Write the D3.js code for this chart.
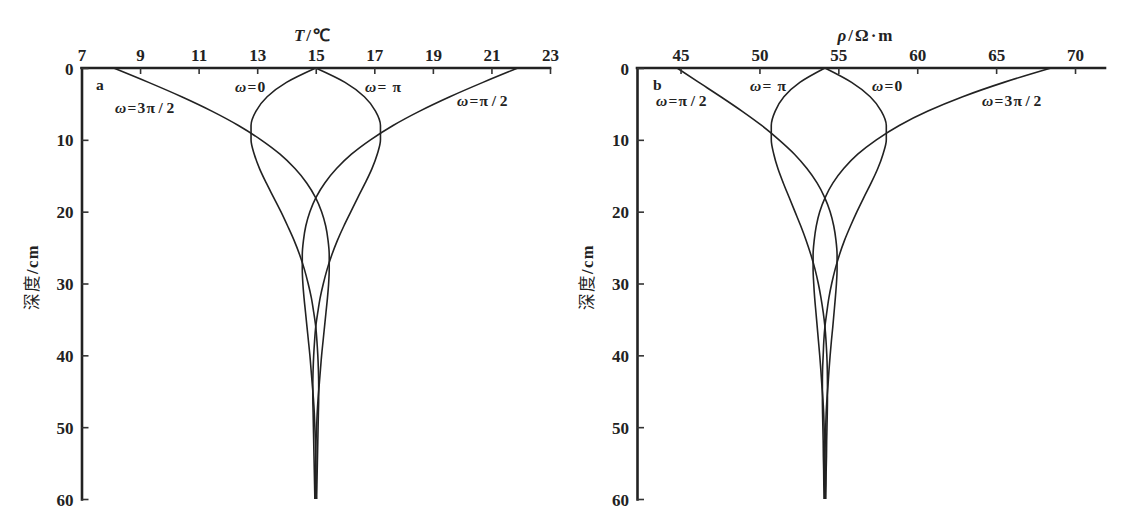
<!DOCTYPE html>
<html>
<head>
<meta charset="utf-8">
<script src="https://cdn.jsdelivr.net/npm/d3@7/dist/d3.min.js"></script>
<style>
  body { margin: 0; background: #fff; }
  svg { display: block; }
  .tick text { font-family: "Liberation Serif", serif; font-weight: bold; font-size: 17px; fill: #222; }
  .tick line { stroke: #333; stroke-width: 1.6; }
  .domain { stroke: #222; stroke-width: 2.6; stroke-linecap: square; }
  .lbl { font-family: "Liberation Serif", serif; font-weight: bold; font-size: 15.5px; fill: #222; letter-spacing: 1.2px; }
</style>
</head>
<body>
<svg width="1121" height="527"></svg>
<script>
// depth of each sample, cm
const depth = [0, 2, 4, 6, 8, 10, 12, 14, 16, 18, 20, 22, 24, 26, 28, 30,
  32, 34, 36, 38, 40, 42, 44, 46, 48, 50, 52, 54, 56, 58, 60];

// panel a: temperature (°C) per phase
const tempOmega0 = [15.00, 14.00, 13.34, 12.96, 12.79, 12.79, 12.90, 13.08, 13.31, 13.56, 13.81,
  14.04, 14.26, 14.45, 14.61, 14.74, 14.85, 14.93, 15.00, 15.04, 15.07, 15.09, 15.10, 15.10,
  15.09, 15.08, 15.07, 15.06, 15.05, 15.04, 15.03];
const tempOmegaHalfPi = [21.90, 20.71, 19.58, 18.55, 17.64, 16.87, 16.22, 15.71, 15.31, 15.01, 14.80,
  14.66, 14.58, 14.54, 14.54, 14.56, 14.60, 14.65, 14.70, 14.75, 14.80, 14.84, 14.88, 14.92,
  14.95, 14.97, 14.99, 15.00, 15.01, 15.01, 15.02];
const tempOmegaPi = [15.00, 16.00, 16.66, 17.04, 17.21, 17.21, 17.10, 16.92, 16.69, 16.44, 16.20,
  15.96, 15.74, 15.55, 15.39, 15.26, 15.15, 15.07, 15.00, 14.96, 14.93, 14.91, 14.90, 14.90,
  14.91, 14.92, 14.93, 14.94, 14.95, 14.96, 14.97];
const tempOmega3HalfPi = [8.10, 9.29, 10.42, 11.45, 12.36, 13.13, 13.78, 14.29, 14.69, 14.99, 15.20,
  15.34, 15.42, 15.46, 15.46, 15.44, 15.40, 15.35, 15.30, 15.25, 15.20, 15.16, 15.12, 15.08,
  15.05, 15.03, 15.01, 15.00, 14.99, 14.99, 14.98];

// panel b: resistivity (Ω·m) per phase
const rhoOmega0 = [54.15, 55.84, 57.02, 57.72, 58.04, 58.04, 57.83, 57.50, 57.08, 56.62, 56.18,
  55.77, 55.39, 55.07, 54.80, 54.58, 54.40, 54.27, 54.15, 54.08, 54.04, 54.00, 53.99, 53.99,
  54.00, 54.02, 54.04, 54.05, 54.07, 54.08, 54.10];
const rhoOmegaHalfPi = [44.78, 46.16, 47.55, 48.89, 50.14, 51.24, 52.22, 53.01, 53.65, 54.13, 54.48,
  54.71, 54.85, 54.92, 54.92, 54.88, 54.81, 54.73, 54.65, 54.56, 54.48, 54.41, 54.35, 54.28,
  54.23, 54.20, 54.17, 54.15, 54.13, 54.13, 54.12];
const rhoOmegaPi = [54.15, 52.56, 51.55, 51.00, 50.75, 50.75, 50.91, 51.17, 51.51, 51.88, 52.25,
  52.62, 52.96, 53.26, 53.52, 53.73, 53.90, 54.04, 54.15, 54.22, 54.27, 54.30, 54.31, 54.31,
  54.30, 54.28, 54.26, 54.25, 54.23, 54.22, 54.20];
const rhoOmega3HalfPi = [68.48, 65.49, 62.88, 60.68, 58.86, 57.41, 56.23, 55.34, 54.66, 54.17, 53.82,
  53.60, 53.47, 53.40, 53.40, 53.44, 53.50, 53.58, 53.66, 53.74, 53.82, 53.89, 53.95, 54.02,
  54.07, 54.10, 54.13, 54.15, 54.17, 54.17, 54.18];

// tick labels
const tempTicks = [7, 9, 11, 13, 15, 17, 19, 21, 23];
const rhoTicks = [45, 50, 55, 60, 65, 70];
const depthTicks = [0, 10, 20, 30, 40, 50, 60];

const svg = d3.select("svg");

// shared depth scale (top = 0 cm)
const y = d3.scaleLinear().domain([0, 60]).range([68, 499]);

function drawPanel(opts) {
  const x = d3.scaleLinear().domain(opts.domain).range(opts.range);
  const g = svg.append("g");

  // curves first, axes on top
  const line = d3.line()
    .x((d) => x(d.v))
    .y((d) => y(d.z))
    .curve(d3.curveMonotoneY);

  opts.series.forEach((s) => {
    const pts = depth.map((z, i) => ({ z: z, v: s[i] }));
    g.append("path")
      .attr("d", line(pts))
      .attr("fill", "none")
      .attr("stroke", "#222")
      .attr("stroke-width", 1.6);
  });

  // top axis, ticks pointing into the plot
  g.append("g")
    .attr("transform", `translate(0,${y(0)})`)
    .call(d3.axisTop(x).tickValues(opts.ticks).tickSizeInner(-6).tickSizeOuter(0).tickPadding(7))
    .call((a) => a.select(".domain").attr("d", `M${opts.range[0]},0H${opts.range[1]}`));

  // depth axis
  g.append("g")
    .attr("transform", `translate(${opts.range[0]},0)`)
    .call(d3.axisLeft(y).tickValues(depthTicks).tickSizeInner(-7).tickSizeOuter(0).tickPadding(8))
    .call((a) => a.selectAll(".tick text").attr("dy", "0.36em"));

  // axis titles
  g.append("text")
    .attr("class", "lbl")
    .attr("x", opts.titleX)
    .attr("y", opts.titleY)
    .attr("text-anchor", "middle")
    .style("font-size", "17px")
    .style("letter-spacing", "2px")
    .html(opts.title);

  g.append("text")
    .attr("class", "lbl")
    .attr("transform", `translate(${opts.range[0] - 44},277) rotate(-90)`)
    .attr("text-anchor", "middle")
    .style("font-size", "16.5px")
    .style("letter-spacing", "1.5px")
    .html('<tspan style="font-family:\'Noto Sans CJK SC\';font-weight:normal">深度</tspan>/cm');

  // curve labels
  opts.labels.forEach((l) => {
    const t = g.append("text").attr("class", "lbl").attr("x", l.x).attr("y", l.y);
    if (l.plain) {
      t.text(l.text);
    } else {
      t.append("tspan").style("font-style", "italic").text("ω");
      t.append("tspan").text(l.text);
    }
  });
}

drawPanel({
  domain: [7, 23],
  range: [81.5, 550],
  ticks: tempTicks,
  series: [tempOmega0, tempOmegaHalfPi, tempOmegaPi, tempOmega3HalfPi],
  title: '<tspan font-style="italic">T</tspan>/℃',
  titleX: 313,
  titleY: 41,
  labels: [
    { x: 96, y: 90, text: "a", plain: true },
    { x: 235, y: 92, text: "=0" },
    { x: 365, y: 92, text: "= π" },
    { x: 457, y: 106, text: "=π\u200a/\u200a2" },
    { x: 115, y: 113, text: "=3π\u200a/\u200a2" }
  ]
});

drawPanel({
  domain: [42.24, 71.9],
  range: [637, 1105],
  ticks: rhoTicks,
  series: [rhoOmega0, rhoOmegaHalfPi, rhoOmegaPi, rhoOmega3HalfPi],
  title: '<tspan font-style="italic">ρ</tspan>/Ω·m',
  titleX: 866,
  titleY: 41,
  labels: [
    { x: 653, y: 90, text: "b", plain: true },
    { x: 656, y: 106, text: "=π\u200a/\u200a2" },
    { x: 750, y: 91, text: "= π" },
    { x: 872, y: 91, text: "=0" },
    { x: 982, y: 106, text: "=3π\u200a/\u200a2" }
  ]
});
</script>
</body>
</html>
